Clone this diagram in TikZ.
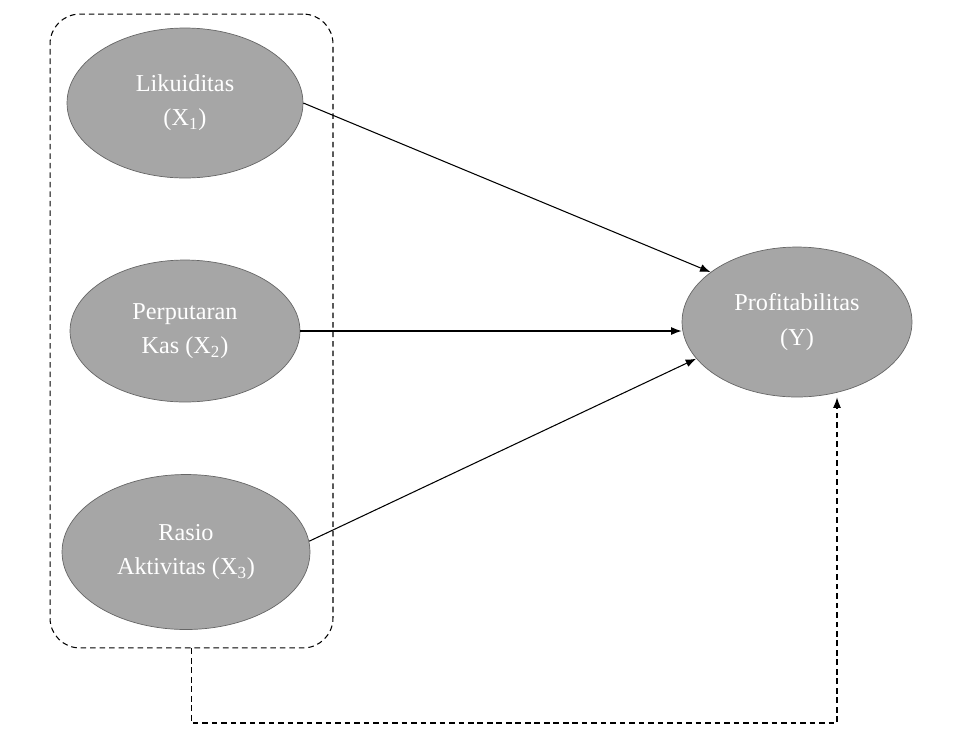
\documentclass[tikz,border=0pt]{standalone}
\usepackage{fontspec}
\setmainfont{Liberation Serif}
\usetikzlibrary{arrows.meta,shapes.geometric}

\tikzset{
  var/.style={ellipse, draw=gray!80!black, line width=0.4pt, fill=black!35,
    text=white, align=center, inner sep=0pt,
    font=\fontsize{13.8}{19.5}\selectfont},
  grpbox/.style={draw, dashed, dash pattern=on 3.2pt off 2.2pt, line width=0.6pt,
    rounded corners=17pt, inner sep=0pt},
  link/.style={-{Latex[length=6pt,width=4.5pt]}, line width=0.6pt},
  fback/.style={link, dash pattern=on 3.2pt off 2.2pt}
}

\begin{document}
\begin{tikzpicture}[x=0.02cm, y=-0.02cm]
  \useasboundingbox (0,0) rectangle (966,731);

  % Independent variables
  \node[var, minimum width=4.72cm, minimum height=3.0cm] (lik) at (185,103) {Likuiditas\\(X\textsubscript{1})};
  \node[var, minimum width=4.6cm, minimum height=2.84cm] (kas) at (185,331) {Perputaran\\Kas (X\textsubscript{2})};
  \node[var, minimum width=4.96cm, minimum height=3.1cm] (ras) at (186,552) {Rasio\\Aktivitas (X\textsubscript{3})};

  % Dependent variable
  \node[var, minimum width=4.6cm, minimum height=3.0cm] (prof) at (797,322) {Profitabilitas\\(Y)};

  % Group of X
  \node[grpbox, minimum width=5.66cm, minimum height=12.68cm] (grp) at (191.5,331) {};

  % Partial effects
  \draw[link] (lik.east) -- (prof.150);
  \draw[link] (kas.east) -- (kas.east -| prof.west);
  \draw[link] (ras.5) -- (prof.200);

  % Simultaneous effect
  \coordinate (fb) at (837,723);
  \draw[fback] (grp.south) |- (fb) -- (fb |- prof.south);
\end{tikzpicture}
\end{document}
